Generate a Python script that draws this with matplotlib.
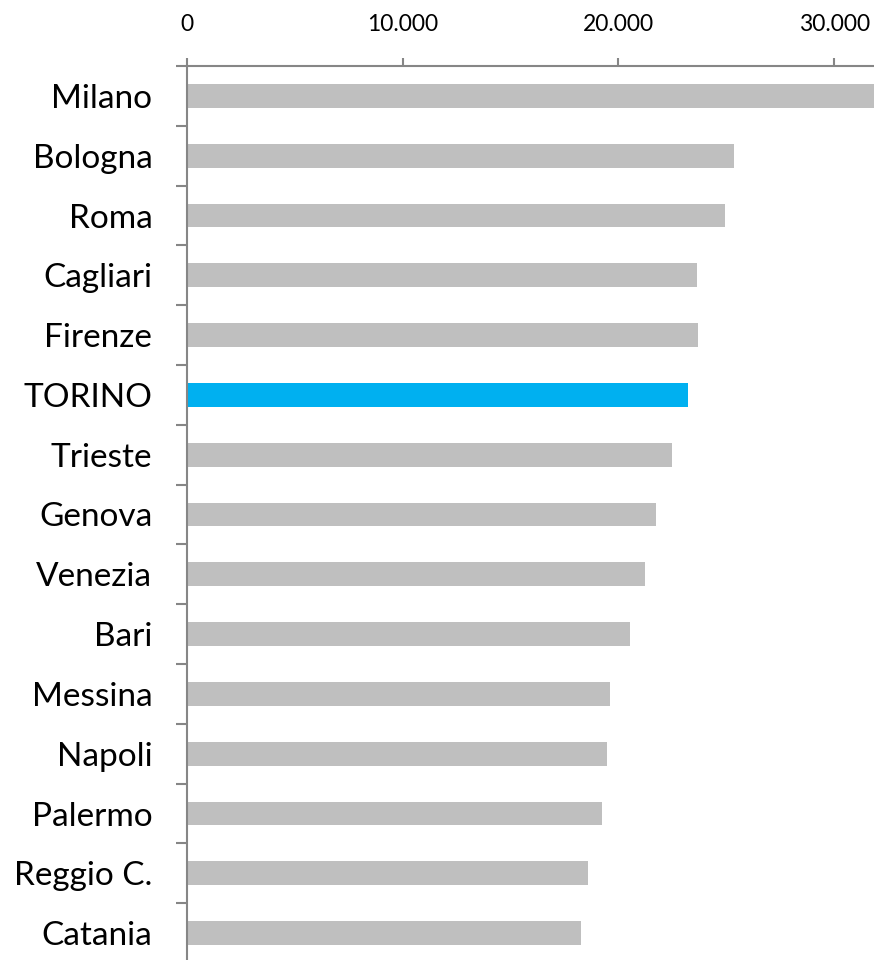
import numpy as np
import matplotlib.pyplot as plt
from matplotlib.ticker import FuncFormatter

# cities, top to bottom
cities = ['Milano', 'Bologna', 'Roma', 'Cagliari', 'Firenze', 'TORINO', 'Trieste',
          'Genova', 'Venezia', 'Bari', 'Messina', 'Napoli', 'Palermo', 'Reggio C.', 'Catania']
values = [32000, 25350, 24950, 23650, 23700, 23250, 22500,
          21750, 21250, 20550, 19600, 19450, 19250, 18600, 18250]
highlight = 'TORINO'

plt.rcParams['font.family'] = ['Lato', 'DejaVu Sans']

fig = plt.figure(figsize=(8.74, 9.6), dpi=100)
ax = fig.add_axes([187 / 874, -3 / 960, 1 - 187 / 874, 897 / 960])

colors = ['#00B0F0' if c == highlight else '#BFBFBF' for c in cities]
y = np.arange(len(cities))
ax.barh(y, values, height=0.4, color=colors)

ax.set_xlim(0, 31850)
ax.set_ylim(len(cities) - 0.5, -0.5)

ax.xaxis.tick_top()
ax.set_xticks([0, 10000, 20000, 30000])
ax.xaxis.set_major_formatter(FuncFormatter(lambda v, p: f'{int(v):,}'.replace(',', '.')))
ax.tick_params(axis='x', length=6, width=1.5, color='#868686', labelsize=16.5, pad=16)

# category labels in between, tick marks on boundaries
ax.set_yticks(y)
ax.set_yticklabels(cities)
ax.tick_params(axis='y', which='major', length=0, labelsize=24, pad=25)
ax.set_yticks(np.arange(len(cities) + 1) - 0.5, minor=True)
ax.tick_params(axis='y', which='minor', length=8, width=1.5, color='#868686')

for s in ['right', 'bottom']:
    ax.spines[s].set_visible(False)
for s in ['top', 'left']:
    ax.spines[s].set_color('#868686')
    ax.spines[s].set_linewidth(1.5)

fig.savefig('out.png', dpi=100)
